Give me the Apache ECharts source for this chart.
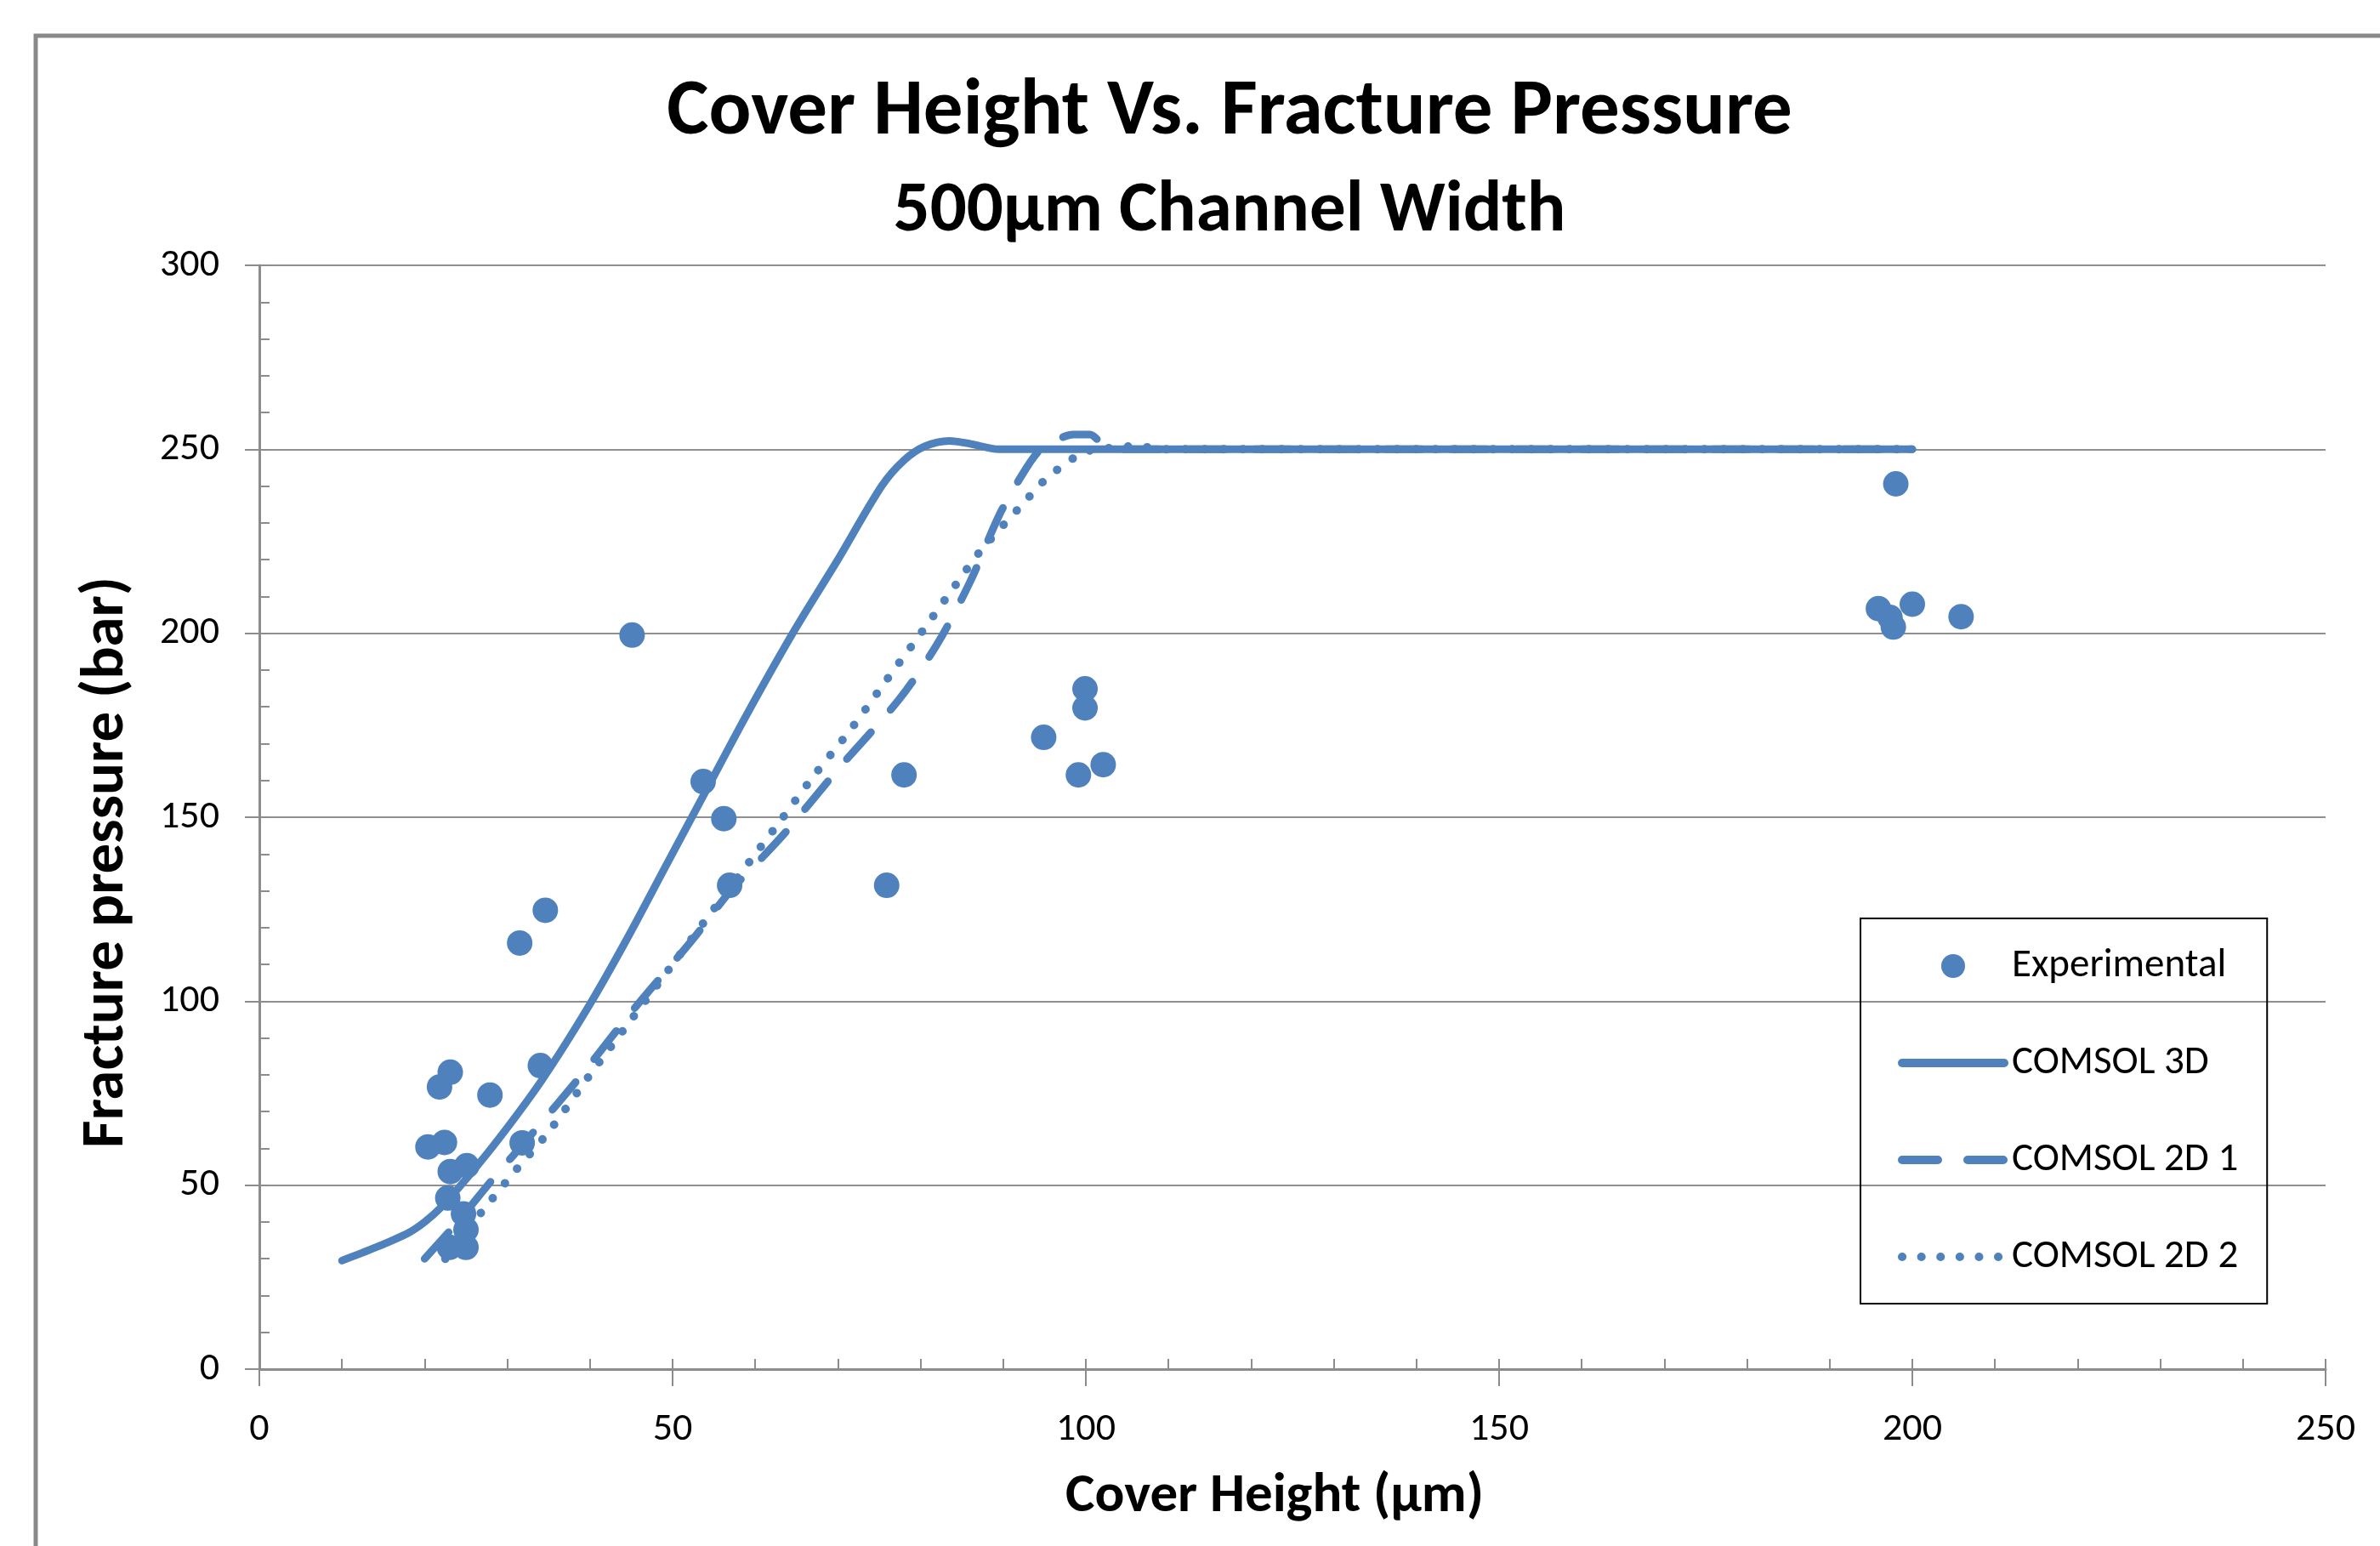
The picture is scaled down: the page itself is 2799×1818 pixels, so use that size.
<!DOCTYPE html>
<html>
<head>
<meta charset="utf-8">
<title>Cover Height Vs. Fracture Pressure</title>
<script src="https://cdn.jsdelivr.net/npm/echarts@6.0.0/dist/echarts.min.js"></script>
<style>
  html, body { margin: 0; padding: 0; background: #fff; }
  #chart { width: 2799px; height: 1818px; }
</style>
</head>
<body>
<div id="chart"></div>
<script>
// values: [cover height (µm), fracture pressure (bar)]
var experimental = [
  [45.1, 199.5], [53.7, 159.7], [56.2, 149.6], [56.9, 131.5], [75.9, 131.5],
  [78.0, 161.5], [94.9, 171.7], [99.9, 184.9], [99.9, 179.7], [99.1, 161.5],
  [102.1, 164.3], [34.6, 124.7], [31.5, 115.8], [23.1, 80.7], [21.8, 76.7],
  [27.9, 74.5], [34.0, 82.5], [20.4, 60.4], [22.4, 61.6], [31.8, 61.5],
  [23.1, 53.7], [25.1, 55.3], [22.8, 46.5], [24.7, 42.2], [25.0, 37.9],
  [23.0, 33.1], [25.0, 33.1],
  [198.0, 240.6], [195.9, 206.7], [200.0, 207.9], [197.3, 204.3], [197.7, 201.7],
  [205.9, 204.5]
]
var comsol3D = [
  [10, 29.5], [14, 33], [18, 37], [20, 40], [22, 44], [24.7, 50.8], [28.9, 62.4],
  [34.2, 78.6], [39.9, 98.8], [44.5, 117], [49, 136], [54, 157], [59, 178],
  [64.8, 201], [70, 220], [75.3, 240], [78, 247], [80.5, 250.8], [83.5, 252.3],
  [86, 251.5], [89.5, 250], [95, 250], [100, 250], [150, 250], [200, 250]
]
var comsol2D1 = [
  [20, 30], [24, 40], [28, 51], [33, 64], [39, 80], [45, 97], [52.5, 117],
  [57, 130], [60.4, 138], [63.7, 146], [70, 163], [77.4, 182], [82, 197],
  [86, 214], [89.5, 232], [92, 242], [94.1, 249], [96, 252], [98.5, 254],
  [100.5, 254], [102, 251.5], [104, 250], [150, 250], [200, 250]
]
var comsol2D2 = [
  [22.5, 30], [27, 43], [31, 54], [35, 64.5], [40, 80], [45, 95], [51, 113],
  [55.3, 126], [62.7, 148], [67, 161], [71.6, 174], [75.8, 187], [80.2, 200.5],
  [84.2, 213], [87.3, 222.5], [92.3, 235], [95.5, 242.7], [97.6, 246], [99.4, 249],
  [101.5, 250], [106, 250.8], [110, 250], [150, 250], [200, 250]
]
var seriesNames = ['Experimental', 'COMSOL 3D', 'COMSOL 2D 1', 'COMSOL 2D 2']

var font = 'Carlito, Calibri, "Liberation Sans Narrow", "Open Sans", sans-serif'
var blue = '#4F81BD'
var axisGray = '#8c8c8c'

var chart = echarts.init(document.getElementById('chart'))

var option = {
  animation: false,
  backgroundColor: '#fff',
  grid: { left: 305, top: 312, width: 2430, height: 1298, outerBoundsMode: 'none' },
  graphic: [
    {
      type: 'rect', silent: true, z: -10,
      shape: { x: 42, y: 42, width: 3200, height: 2400 },
      style: { fill: null, stroke: '#898989', lineWidth: 5 }
    },
    {
      type: 'text', x: 1446, y: 134,
      style: { text: 'Cover Height Vs. Fracture Pressure', fill: '#000', fontSize: 93, fontWeight: 'bold', fontFamily: font, align: 'center', verticalAlign: 'middle' }
    },
    {
      type: 'text', x: 1446, y: 250,
      style: { text: '500µm Channel Width', fill: '#000', fontSize: 85, fontWeight: 'bold', fontFamily: font, align: 'center', verticalAlign: 'middle' }
    }
  ],
  legend: {
    orient: 'vertical',
    left: 2188, top: 1080,
    itemWidth: 120, itemHeight: 28, itemGap: 64,
    padding: [31, 34, 30, 44],
    borderColor: '#000', borderWidth: 2,
    lineStyle: { width: 10 },
    textStyle: { fontSize: 47, lineHeight: 50, fontFamily: font, color: '#000', padding: [0, 0, 0, 4] },
    data: [
      { name: 'Experimental', icon: 'circle' },
      { name: 'COMSOL 3D', itemStyle: { opacity: 0 } },
      { name: 'COMSOL 2D 1', itemStyle: { opacity: 0 } },
      { name: 'COMSOL 2D 2', itemStyle: { opacity: 0 } }
    ]
  },
  xAxis: [
    {
      type: 'value', min: 0, max: 250, interval: 50, position: 'bottom',
      axisLine: { show: true, onZero: false, lineStyle: { color: axisGray, width: 3 } },
      axisTick: { show: true, length: 20, lineStyle: { color: axisGray, width: 2 } },
      axisLabel: { margin: 48, fontSize: 46, color: '#000', fontFamily: font },
      splitLine: { show: false },
      name: 'Cover Height (µm)', nameLocation: 'middle', nameGap: 118,
      nameTextStyle: { fontSize: 65, fontWeight: 'bold', color: '#000', fontFamily: font, padding: [0, 42, 0, 0] }
    },
    {
      // minor ticks, pointing into the plot
      type: 'value', min: 0, max: 250, interval: 10, position: 'bottom',
      axisLine: { show: false },
      axisTick: { show: true, inside: true, length: 12, lineStyle: { color: axisGray, width: 2 } },
      axisLabel: { show: false },
      splitLine: { show: false }
    }
  ],
  yAxis: [
    {
      type: 'value', min: 0, max: 300, interval: 50, position: 'left',
      axisLine: { show: true, onZero: false, lineStyle: { color: axisGray, width: 3 } },
      axisTick: { show: true, length: 17, lineStyle: { color: axisGray, width: 2 } },
      axisLabel: { margin: 47, fontSize: 46, color: '#000', fontFamily: font },
      splitLine: { show: true, lineStyle: { color: '#8f8f8f', width: 2 } },
      name: 'Fracture pressure (bar)', nameLocation: 'middle', nameGap: 143,
      nameTextStyle: { fontSize: 71, fontWeight: 'bold', color: '#000', fontFamily: font, padding: [0, 106, 0, 0] }
    },
    {
      type: 'value', min: 0, max: 300, interval: 10, position: 'left',
      axisLine: { show: false },
      axisTick: { show: true, inside: true, length: 12, lineStyle: { color: axisGray, width: 2 } },
      axisLabel: { show: false },
      splitLine: { show: false }
    }
  ],
  series: [
    {
      name: seriesNames[0], type: 'scatter', xAxisIndex: 0, yAxisIndex: 0,
      data: experimental, symbol: 'circle', symbolSize: 30,
      itemStyle: { color: blue, opacity: 1 }
    },
    {
      name: seriesNames[1], type: 'line', xAxisIndex: 0, yAxisIndex: 0,
      data: comsol3D, smooth: 0.3, showSymbol: false, color: blue,
      lineStyle: { color: blue, width: 9, cap: 'round', join: 'round' }
    },
    {
      name: seriesNames[2], type: 'line', xAxisIndex: 0, yAxisIndex: 0,
      data: comsol2D1, smooth: 0.3, showSymbol: false, color: blue,
      lineStyle: { color: blue, width: 9, type: [42, 35], cap: 'round' }
    },
    {
      name: seriesNames[3], type: 'line', xAxisIndex: 0, yAxisIndex: 0,
      data: comsol2D2, smooth: 0.3, showSymbol: false, color: blue,
      lineStyle: { color: blue, width: 10, type: [0.1, 22.5], cap: 'round' }
    }
  ]
}

chart.setOption(option)
</script>
</body>
</html>
